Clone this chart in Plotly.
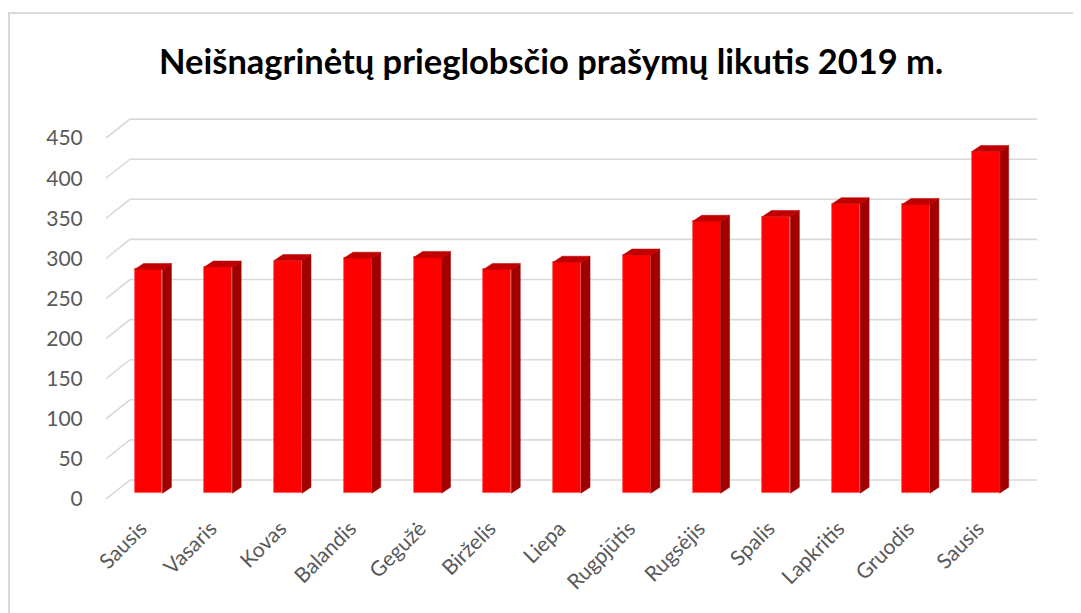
import plotly.graph_objects as go

# ---- data ----
months = ["Sausis", "Vasaris", "Kovas", "Balandis", "Gegužė", "Birželis", "Liepa",
          "Rugpjūtis", "Rugsėjis", "Spalis", "Lapkritis", "Gruodis", "Sausis"]
values = [279, 282, 290, 293, 294, 279, 288, 297, 339, 345, 361, 360, 426]
y_ticks = [0, 50, 100, 150, 200, 250, 300, 350, 400, 450]
title_text = "Neišnagrinėtų prieglobsčio prašymų likutis 2019 m."

# ---- layout geometry (pixels) ----
OFF = 8                      # page body margin of the browser
W, H = 1081, 613
ML, MR, MT, MB = 106 - OFF, 44 + OFF, 100 - OFF, 114 + OFF
PX_PER_UNIT = 0.802          # vertical pixels per value unit
n = len(months)
depth_dx = 0.344             # back wall offset in category units
depth_dy = 19 / PX_PER_UNIT  # back wall offset in value units
bar_shift_x = 0.109          # bars sit mid-depth
bar_base = 5.8 / PX_PER_UNIT
bar_w = 0.40
side_dx = 0.129
side_dy = 6 / PX_PER_UNIT

x_min = -0.5
x_max = n - 0.5 + depth_dx
plot_h = H - MT - MB
y_max = plot_h / PX_PER_UNIT

fig = go.Figure()

# front faces
xs = [i + bar_shift_x for i in range(n)]
fig.add_trace(go.Bar(
    x=xs, y=values, base=bar_base, width=bar_w,
    marker=dict(color="#FF0000", line=dict(color="#FF5A5A", width=0.8)),
    hoverinfo="skip", showlegend=False))

# side faces & top faces
sx, sy, tx, ty = [], [], [], []
for x, v in zip(xs, values):
    xl, xr = x - bar_w / 2, x + bar_w / 2
    top = bar_base + v
    sx += [xr, xr + side_dx, xr + side_dx, xr, xr, None]
    sy += [bar_base, bar_base + side_dy, top + side_dy, top, bar_base, None]
    tx += [xl, xr, xr + side_dx, xl + side_dx, xl, None]
    ty += [top, top, top + side_dy, top + side_dy, top, None]

fig.add_trace(go.Scatter(x=sx, y=sy, mode="lines", fill="toself",
                         fillcolor="#A00000", line=dict(color="#A00000", width=0.5),
                         hoverinfo="skip", showlegend=False))
fig.add_trace(go.Scatter(x=tx, y=ty, mode="lines", fill="toself",
                         fillcolor="#C00000", line=dict(color="#C00000", width=0.5),
                         hoverinfo="skip", showlegend=False))

# gridlines in perspective (front-left slant + back wall)
shapes = []
for v in y_ticks:
    path = (f"M {x_min},{v} L {x_min + depth_dx},{v + depth_dy} "
            f"L {x_max},{v + depth_dy}")
    shapes.append(dict(type="path", path=path, xref="x", yref="y",
                       line=dict(color="#D9D9D9", width=1.6), layer="below"))

# outer chart border (screen pixel -> paper)
px = lambda p: (p - OFF - ML) / (W - ML - MR)
py = lambda p: 1 + (MT - (p - OFF)) / plot_h
shapes.append(dict(type="rect", xref="paper", yref="paper",
                   x0=px(OFF + 1), y0=py(700), x1=px(1200), y1=py(13),
                   line=dict(color="#D9D9D9", width=2), layer="below"))

fig.update_layout(
    width=W, height=H,
    margin=dict(l=ML, r=MR, t=MT, b=MB, pad=0),
    paper_bgcolor="white", plot_bgcolor="white",
    shapes=shapes,
    annotations=[dict(text=f"<b>{title_text}</b>", xref="paper", yref="paper",
                      x=px(551), y=py(60), xanchor="center", yanchor="middle",
                      showarrow=False,
                      font=dict(family="Lato", size=34.5, color="black"))],
    xaxis=dict(range=[x_min, x_max], showgrid=False, zeroline=False, showline=False,
               tickmode="array", tickvals=list(range(n)), ticktext=months,
               tickangle=-45, ticks="outside", ticklen=8, tickcolor="rgba(0,0,0,0)",
               tickfont=dict(family="Lato", size=21, color="#595959")),
    yaxis=dict(range=[0, y_max], showgrid=False, zeroline=False, showline=False,
               tickmode="array", tickvals=y_ticks,
               ticks="outside", ticklen=18, tickcolor="rgba(0,0,0,0)",
               tickfont=dict(family="Lato", size=21, color="#595959")),
    bargap=0,
)

fig.write_html("out.html")
